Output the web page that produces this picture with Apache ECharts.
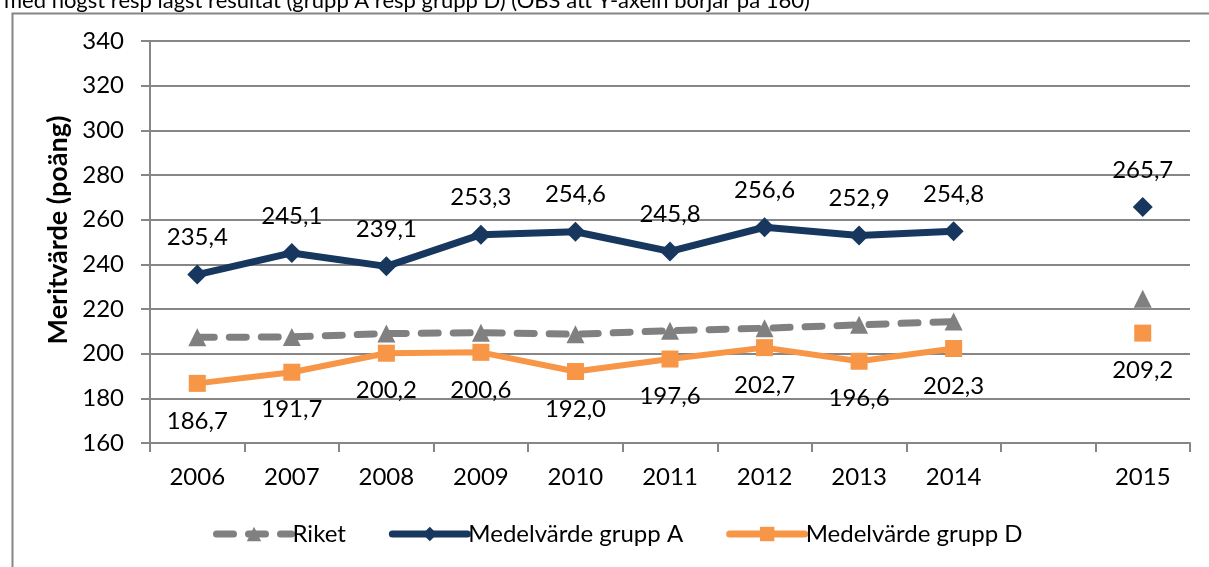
<!DOCTYPE html>
<html>
<head>
<meta charset="utf-8">
<title>Meritvärde</title>
<script src="https://cdn.jsdelivr.net/npm/echarts@6.0.0/dist/echarts.min.js"></script>
<style>
    html, body { margin: 0; padding: 0; background: #fff; }
    #chart { width: 1209px; height: 567px; }
</style>
</head>
<body>
<div id="chart"></div>
<script>
// kategorier (tom plats mellan 2014 och 2015)
var years = ['2006', '2007', '2008', '2009', '2010', '2011', '2012', '2013', '2014', '', '2015'];
// Riket
var riket = [207.3, 207.5, 209.0, 209.4, 208.7, 210.3, 211.4, 212.9, 214.4, null, 224.6];
// Medelvärde grupp A
var gruppA = [235.4, 245.1, 239.1, 253.3, 254.6, 245.8, 256.6, 252.9, 254.8, null, 265.7];
// Medelvärde grupp D
var gruppD = [186.7, 191.7, 200.2, 200.6, 192.0, 197.6, 202.7, 196.6, 202.3, null, 209.2];
// y-axel
var yMin = 160, yMax = 340, yStep = 20;

var fontName = 'Lato';
var gridColor = '#868686';
var riketDash = [17, 15];

function commaFmt(p) {
    return p.value == null ? '' : p.value.toFixed(1).replace('.', ',');
}

var myChart = echarts.init(document.getElementById('chart'));

var option = {
    animation: false,
    backgroundColor: '#fff',
    textStyle: { fontFamily: fontName },
    title: {
        text: 'med högst resp lägst resultat (grupp A resp grupp D) (OBS att Y-axeln börjar på 160)',
        left: -1,
        top: -15,
        textStyle: { fontFamily: fontName, fontSize: 22, fontWeight: 'normal', color: '#000' }
    },
    graphic: [{
        // ram runt diagrammet
        type: 'rect',
        left: 10,
        top: 11,
        shape: { width: 1300, height: 700 },
        style: { fill: 'none', stroke: gridColor, lineWidth: 2 },
        z: -10
    }],
    grid: {
        left: 150,
        right: 19,
        top: 41,
        bottom: 124
    },
    legend: {
        left: 208,
        top: 517,
        itemWidth: 75,
        itemHeight: 18,
        itemGap: 43,
        textStyle: { fontFamily: fontName, fontSize: 24, color: '#000', padding: [0, 0, 0, -4] },
        lineStyle: { width: 7, cap: 'round' },
        data: [
            { name: 'Riket', lineStyle: { width: 7, type: riketDash, cap: 'round' } },
            { name: 'Medelvärde grupp A' },
            { name: 'Medelvärde grupp D' }
        ]
    },
    xAxis: {
        type: 'category',
        data: years,
        axisLine: { lineStyle: { color: gridColor, width: 2 } },
        axisTick: { show: true, length: 9, lineStyle: { color: gridColor, width: 2 } },
        axisLabel: { color: '#000', fontSize: 24, fontFamily: fontName, margin: 22 }
    },
    yAxis: {
        type: 'value',
        min: yMin,
        max: yMax,
        interval: yStep,
        name: 'Meritvärde (poäng)',
        nameLocation: 'middle',
        nameRotate: 90,
        nameGap: 75,
        nameTextStyle: { fontFamily: fontName, fontSize: 27, fontWeight: 'bold', color: '#000', padding: [0, 0, 0, 24] },
        axisLine: { show: true, lineStyle: { color: gridColor, width: 2 } },
        axisTick: { show: true, length: 9, lineStyle: { color: gridColor, width: 2 } },
        axisLabel: { color: '#000', fontSize: 24, fontFamily: fontName, margin: 26 },
        splitLine: { lineStyle: { color: gridColor, width: 2 } }
    },
    series: [{
        name: 'Riket',
        type: 'line',
        data: riket,
        symbol: 'triangle',
        symbolSize: 18,
        color: '#808080',
        lineStyle: { width: 7, type: riketDash, cap: 'round', color: '#808080' },
        itemStyle: { color: '#808080' }
    }, {
        name: 'Medelvärde grupp A',
        type: 'line',
        data: gruppA,
        symbol: 'diamond',
        symbolSize: 20,
        color: '#17375E',
        lineStyle: { width: 7, color: '#17375E', cap: 'round' },
        itemStyle: { color: '#17375E' },
        label: {
            show: true,
            position: 'top',
            distance: 15,
            fontFamily: fontName,
            fontSize: 24,
            color: '#000',
            formatter: commaFmt
        }
    }, {
        name: 'Medelvärde grupp D',
        type: 'line',
        data: gruppD,
        symbol: 'rect',
        symbolSize: 17,
        color: '#F79646',
        lineStyle: { width: 6, color: '#F79646', cap: 'round' },
        itemStyle: { color: '#F79646' },
        label: {
            show: true,
            position: 'bottom',
            distance: 17,
            fontFamily: fontName,
            fontSize: 24,
            color: '#000',
            formatter: commaFmt
        }
    }]
};

myChart.setOption(option);
</script>
</body>
</html>
